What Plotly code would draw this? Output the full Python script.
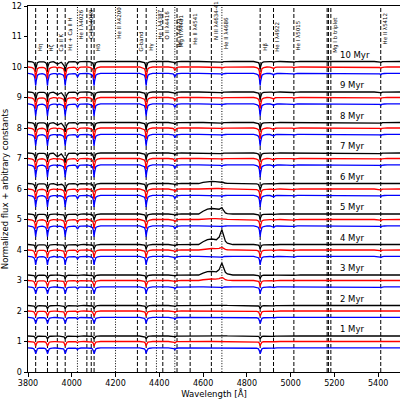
import numpy as np
import plotly.graph_objects as go

# ---------------- data ----------------
ages = [1, 2, 3, 4, 5, 6, 7, 8, 9, 10]

# arbitrary vertical constants per series (added to the age)
offset_black = 0.18
offset_red = 0.0
offset_blue = -0.21

# absorption features seen in the spectra (wavelength, relative strength vs Balmer)
abs_wl = [3835, 3889, 3934, 3970, 4026, 4102, 4340, 4471, 4686, 4861, 4922, 5015, 5412]
abs_rel = [1.0, 1.0, 0.12, 1.0, 0.3, 1.0, 1.0, 0.3, 0.12, 1.0, 0.15, 0.1, 0.12]

# Balmer-line depth per age, per series
depth_black = [0.10, 0.11, 0.12, 0.15, 0.18, 0.20, 0.22, 0.24, 0.25, 0.25]
depth_red = [0.15, 0.17, 0.20, 0.25, 0.30, 0.33, 0.35, 0.36, 0.37, 0.38]
depth_blue = [0.19, 0.20, 0.23, 0.28, 0.35, 0.38, 0.40, 0.38, 0.40, 0.40]

# broad Ca II K / H depressions in the black series
cah_wl = [3934, 3968]
cah_black = [0.0, 0.0, 0.0, 0.0, 0.0, 0.04, 0.10, 0.07, 0.07, 0.07]

# Wolf-Rayet emission bumps (N III 4640 and He II 4686) per age
niii_black = [0.02, 0.02, 0.12, 0.18, 0.18, 0.07, 0.0, 0.0, 0.0, 0.0]
heii_black = [0.03, 0.03, 0.37, 0.45, 0.16, 0.05, 0.0, 0.0, 0.0, 0.0]
niii_red = [0.0, 0.0, 0.05, 0.05, 0.03, 0.02, 0.0, 0.0, 0.0, 0.0]
heii_red = [0.0, 0.0, 0.11, 0.09, 0.05, 0.02, 0.0, 0.0, 0.0, 0.0]

# line-profile templates (offset in Angstrom, fraction of peak)
prof_dx = [-30, -16, -8, -4, -2, 0, 2, 4, 8, 16, 30]
prof_frac = [0, 0.06, 0.15, 0.35, 0.65, 1, 0.65, 0.35, 0.15, 0.06, 0]
broad_dx = [-18, -9, 0, 9, 18]
broad_frac = [0, 0.7, 1, 0.7, 0]
niii_wl = 4640
niii_dx = [-60, -40, -20, 0, 20, 40, 60]
niii_frac = [0, 0.5, 0.9, 1, 0.9, 0.5, 0]
heii_wl = 4686
heii_dx = [-25, -12, -5, 0, 5, 12, 25, 50]
heii_frac = [0, 0.3, 0.7, 1, 0.7, 0.3, 0.1, 0]

# marked lines
mark_wl = [3835, 3889, 3934, 3970, 4026, 4069, 4089, 4102, 4200, 4300, 4340, 4387, 4416,
           4471, 4481, 4541, 4638, 4686, 4861, 4922, 5015, 5167, 5173, 5184, 5412]
mark_dot = [0, 0, 0, 0, 1, 0, 0, 0, 1, 0, 0, 1, 0,
            1, 0, 0, 0, 1, 0, 0, 0, 0, 0, 0, 0]
mark_text = ["Hη", "Hζ", "Ca II K", "Hε + Ca II H", "He I λ4026", "C III λ4069", "", "Hδ",
             "He II λ4200", "G-band", "Hγ", "He I λ4387", "O II λ4416", "He I λ4471",
             "Mg II λ4481", "He II λ4541", "N III λ4634-41", "He II λ4686", "Hβ",
             "He I λ4922", "He I λ5015", "", "", "Mg I b triplet", "He II λ5412"]
mark_label_y = [10.49, 10.49, 10.49, 10.49, 10.88, 10.88, 0, 10.49, 10.88, 10.49, 10.49, 10.88,
                10.88, 10.6, 10.6, 10.7, 10.85, 10.55, 10.49, 10.45, 10.5, 0, 0, 10.45, 10.7]

age_label_wl = 5220
x_ticks = [3800, 4000, 4200, 4400, 4600, 4800, 5000, 5200, 5400]
y_ticks = list(range(0, 13))

# ---------------- build figure ----------------
grid = set([3800, 5500])
for w in abs_wl:
    grid.update(w + d for d in prof_dx)
for w in cah_wl:
    grid.update(w + d for d in broad_dx)
grid.update(niii_wl + d for d in niii_dx)
grid.update(heii_wl + d for d in heii_dx)
wl = np.array(sorted(grid), dtype=float)


def spectrum(base, depth, cah, niii, heii):
    y = np.full_like(wl, base)
    for w, r in zip(abs_wl, abs_rel):
        y -= depth * r * np.interp(wl - w, prof_dx, prof_frac, left=0, right=0)
    for w in cah_wl:
        y -= cah * np.interp(wl - w, broad_dx, broad_frac, left=0, right=0)
    y += niii * np.interp(wl - niii_wl, niii_dx, niii_frac, left=0, right=0)
    y += heii * np.interp(wl - heii_wl, heii_dx, heii_frac, left=0, right=0)
    return y


fig = go.Figure()

# vertical marker lines
for dot in (0, 1):
    xs, ys = [], []
    for w, d in zip(mark_wl, mark_dot):
        if d == dot:
            xs += [w, w, None]
            ys += [0, 12, None]
    fig.add_trace(go.Scatter(x=xs, y=ys, mode="lines", hoverinfo="skip",
                             line=dict(color="black", width=1,
                                       dash="1px,1.6px" if dot else "4px,2px"),
                             showlegend=False))

for i, a in enumerate(ages):
    for base, dep, cah, ni, he, col in [
        (a + offset_blue, depth_blue[i], 0, 0, 0, "blue"),
        (a + offset_red, depth_red[i], 0, niii_red[i], heii_red[i], "red"),
        (a + offset_black, depth_black[i], cah_black[i], niii_black[i], heii_black[i], "black"),
    ]:
        fig.add_trace(go.Scatter(x=wl, y=spectrum(base, dep, cah, ni, he), mode="lines",
                                 line=dict(color=col, width=1.3), showlegend=False))

annotations = []
for w, t, yy in zip(mark_wl, mark_text, mark_label_y):
    if t:
        annotations.append(dict(x=w, y=yy, xref="x", yref="y", text=t, textangle=-90,
                                showarrow=False, xanchor="left", yanchor="bottom",
                                xshift=0, borderpad=0,
                                font=dict(size=5.5, color="black", family="DejaVu Sans")))
for a in ages:
    annotations.append(dict(x=age_label_wl, y=a + 0.2, xref="x", yref="y", text=f"{a} Myr",
                            showarrow=False, xanchor="left", yanchor="bottom", borderpad=0,
                            font=dict(size=8.5, color="black", family="DejaVu Sans")))

axis_common = dict(showline=True, linecolor="black", linewidth=1, mirror=True,
                   ticks="outside", ticklen=3.5, tickwidth=1, tickcolor="black",
                   showgrid=False, zeroline=False,
                   tickfont=dict(size=8, color="black", family="DejaVu Sans"))

fig.update_layout(
    width=400, height=399,
    margin=dict(l=28, r=0, t=6, b=27),
    paper_bgcolor="white", plot_bgcolor="white",
    annotations=annotations,
    xaxis=dict(range=[3800, 5500], tickvals=x_ticks,
               title=dict(text="Wavelength [Å]", standoff=4,
                          font=dict(size=8.5, color="black", family="DejaVu Sans")),
               **axis_common),
    yaxis=dict(range=[0, 12], tickvals=y_ticks,
               title=dict(text="Normalized flux + arbitrary constants", standoff=2,
                          font=dict(size=8.5, color="black", family="DejaVu Sans")),
               **axis_common),
)

fig.write_html("out.html")
